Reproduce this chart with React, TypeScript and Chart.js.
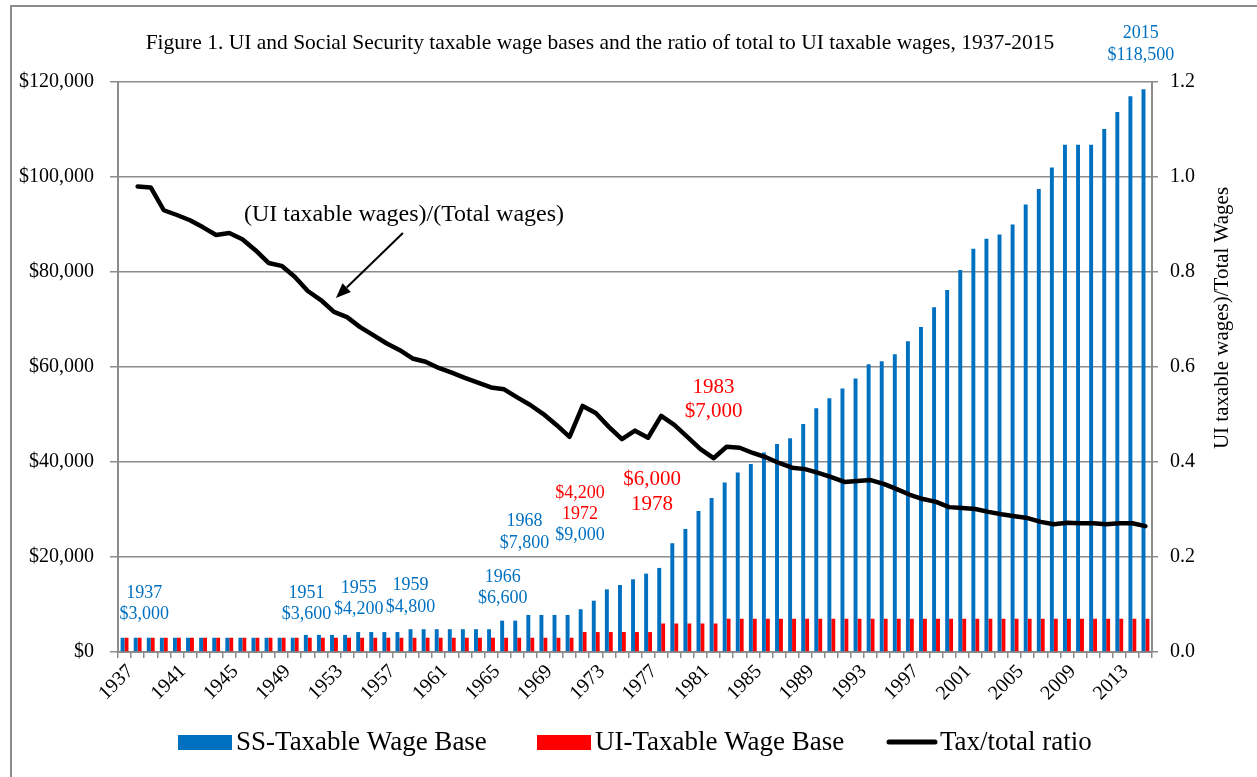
import React, { useEffect, useRef } from 'react';
import { Chart, registerables } from 'chart.js';

Chart.register(...registerables);

const FONT = '"Liberation Serif", "Times New Roman", serif';
const BLUE = '#0070C0';
const RED = '#FF0000';
const GRID = '#8C8C8C';

const years = [
  '1937', '1938', '1939', '1940', '1941', '1942', '1943', '1944', '1945', '1946',
  '1947', '1948', '1949', '1950', '1951', '1952', '1953', '1954', '1955', '1956',
  '1957', '1958', '1959', '1960', '1961', '1962', '1963', '1964', '1965', '1966',
  '1967', '1968', '1969', '1970', '1971', '1972', '1973', '1974', '1975', '1976',
  '1977', '1978', '1979', '1980', '1981', '1982', '1983', '1984', '1985', '1986',
  '1987', '1988', '1989', '1990', '1991', '1992', '1993', '1994', '1995', '1996',
  '1997', '1998', '1999', '2000', '2001', '2002', '2003', '2004', '2005', '2006',
  '2007', '2008', '2009', '2010', '2011', '2012', '2013', '2014', '2015',
];

const ssBase = [
  3000, 3000, 3000, 3000, 3000, 3000, 3000, 3000, 3000, 3000,
  3000, 3000, 3000, 3000, 3600, 3600, 3600, 3600, 4200, 4200,
  4200, 4200, 4800, 4800, 4800, 4800, 4800, 4800, 4800, 6600,
  6600, 7800, 7800, 7800, 7800, 9000, 10800, 13200, 14100, 15300,
  16500, 17700, 22900, 25900, 29700, 32400, 35700, 37800, 39600, 42000,
  43800, 45000, 48000, 51300, 53400, 55500, 57600, 60600, 61200, 62700,
  65400, 68400, 72600, 76200, 80400, 84900, 87000, 87900, 90000, 94200,
  97500, 102000, 106800, 106800, 106800, 110100, 113700, 117000, 118500,
];

const uiBase = [
  3000, 3000, 3000, 3000, 3000, 3000, 3000, 3000, 3000, 3000,
  3000, 3000, 3000, 3000, 3000, 3000, 3000, 3000, 3000, 3000,
  3000, 3000, 3000, 3000, 3000, 3000, 3000, 3000, 3000, 3000,
  3000, 3000, 3000, 3000, 3000, 4200, 4200, 4200, 4200, 4200,
  4200, 6000, 6000, 6000, 6000, 6000, 7000, 7000, 7000, 7000,
  7000, 7000, 7000, 7000, 7000, 7000, 7000, 7000, 7000, 7000,
  7000, 7000, 7000, 7000, 7000, 7000, 7000, 7000, 7000, 7000,
  7000, 7000, 7000, 7000, 7000, 7000, 7000, 7000, 7000,
];

const taxRatio = [
  null, 0.980, 0.978, 0.930, 0.920, 0.909, 0.894, 0.878, 0.882, 0.869,
  0.846, 0.819, 0.813, 0.790, 0.760, 0.741, 0.716, 0.705, 0.684, 0.667,
  0.650, 0.636, 0.618, 0.611, 0.598, 0.588, 0.577, 0.567, 0.557, 0.553,
  0.536, 0.520, 0.501, 0.478, 0.453, 0.518, 0.503, 0.474, 0.448, 0.466,
  0.451, 0.497, 0.478, 0.453, 0.427, 0.408, 0.432, 0.430, 0.419, 0.410,
  0.398, 0.388, 0.385, 0.377, 0.368, 0.358, 0.360, 0.362, 0.354, 0.343,
  0.331, 0.322, 0.316, 0.305, 0.303, 0.301, 0.295, 0.290, 0.286, 0.282,
  0.274, 0.269, 0.272, 0.271, 0.271, 0.269, 0.271, 0.271, 0.265,
];

const TITLE = 'Figure 1. UI and Social Security taxable wage bases and the ratio of total to UI taxable wages, 1937-2015';
const RIGHT_TITLE = 'UI taxable wages)/Total Wages';
const LINE_NOTE = '(UI taxable wages)/(Total wages)';

// annotation: lines of text, anchored at a category position (fractional index) and a dollar value
const ANNOTATIONS: { lines: [string, string][]; at: number; value: number; size: number; gap: number }[] = [
  { lines: [['1937', BLUE], ['$3,000', BLUE]], at: 1.5, value: 12420, size: 18, gap: 21.5 },
  { lines: [['1951', BLUE], ['$3,600', BLUE]], at: 13.9, value: 12420, size: 18, gap: 21.5 },
  { lines: [['1955', BLUE], ['$4,200', BLUE]], at: 17.9, value: 13470, size: 18, gap: 21.5 },
  { lines: [['1959', BLUE], ['$4,800', BLUE]], at: 21.85, value: 14000, size: 18, gap: 21.5 },
  { lines: [['1966', BLUE], ['$6,600', BLUE]], at: 28.9, value: 15790, size: 18, gap: 21.5 },
  { lines: [['1968', BLUE], ['$7,800', BLUE]], at: 30.55, value: 27470, size: 18, gap: 21.5 },
  { lines: [['$4,200', RED], ['1972', RED], ['$9,000', BLUE]], at: 34.8, value: 33470, size: 18, gap: 21 },
  { lines: [['$6,000', RED], ['1978', RED]], at: 40.3, value: 36310, size: 21, gap: 25 },
  { lines: [['1983', RED], ['$7,000', RED]], at: 45.0, value: 55680, size: 21, gap: 23.5 },
  { lines: [['2015', BLUE], ['$118,500', BLUE]], at: 77.65, value: 130300, size: 18, gap: 22 },
  { lines: [[LINE_NOTE, '#000']], at: 21.35, value: 91990, size: 24, gap: 0 },
];

const ARROW = { fromAt: 21.27, fromValue: 88200, toAt: 16.15, toValue: 74520 };

const LEGEND = [
  { label: 'SS-Taxable Wage Base', color: BLUE, kind: 'box', x: 178 },
  { label: 'UI-Taxable Wage Base', color: RED, kind: 'box', x: 537 },
  { label: 'Tax/total ratio', color: '#000', kind: 'line', x: 889 },
];

const overlayPlugin = {
  id: 'overlay',
  afterDraw(chart: any) {
    const ctx: CanvasRenderingContext2D = chart.ctx;
    const xs = chart.scales.x;
    const ys = chart.scales.y;
    ctx.save();
    ctx.textAlign = 'center';
    ctx.textBaseline = 'middle';

    // title
    ctx.fillStyle = '#000';
    ctx.font = `21.5px ${FONT}`;
    ctx.fillText(TITLE, 600, 43);

    // annotations
    for (const a of ANNOTATIONS) {
      const px = xs.getPixelForValue(a.at);
      const py = ys.getPixelForValue(a.value);
      ctx.font = `${a.size}px ${FONT}`;
      a.lines.forEach(([t, c], i) => {
        ctx.fillStyle = c;
        ctx.fillText(t, px, py + i * a.gap);
      });
    }

    // arrow
    const x0 = xs.getPixelForValue(ARROW.fromAt);
    const y0 = ys.getPixelForValue(ARROW.fromValue);
    const x1 = xs.getPixelForValue(ARROW.toAt);
    const y1 = ys.getPixelForValue(ARROW.toValue);
    const ang = Math.atan2(y1 - y0, x1 - x0);
    const head = 15;
    const hw = 6;
    const bx = x1 - head * Math.cos(ang);
    const by = y1 - head * Math.sin(ang);
    ctx.strokeStyle = '#000';
    ctx.lineWidth = 2;
    ctx.beginPath();
    ctx.moveTo(x0, y0);
    ctx.lineTo(bx, by);
    ctx.stroke();
    ctx.fillStyle = '#000';
    ctx.beginPath();
    ctx.moveTo(x1, y1);
    ctx.lineTo(bx + hw * Math.sin(ang), by - hw * Math.cos(ang));
    ctx.lineTo(bx - hw * Math.sin(ang), by + hw * Math.cos(ang));
    ctx.closePath();
    ctx.fill();

    // right axis title
    ctx.save();
    ctx.translate(1222, 318);
    ctx.rotate(-Math.PI / 2);
    ctx.fillStyle = '#000';
    ctx.font = `21px ${FONT}`;
    ctx.fillText(RIGHT_TITLE, 0, 0);
    ctx.restore();

    // legend
    ctx.textAlign = 'left';
    ctx.font = `27px ${FONT}`;
    for (const l of LEGEND) {
      if (l.kind === 'box') {
        ctx.fillStyle = l.color;
        ctx.fillRect(l.x, 735, 54, 15);
        ctx.fillStyle = '#000';
        ctx.fillText(l.label, l.x + 58, 743);
      } else {
        ctx.strokeStyle = l.color;
        ctx.lineWidth = 5;
        ctx.lineCap = 'round';
        ctx.beginPath();
        ctx.moveTo(l.x, 742);
        ctx.lineTo(l.x + 46, 742);
        ctx.stroke();
        ctx.fillStyle = '#000';
        ctx.fillText(l.label, l.x + 51, 743);
      }
    }
    ctx.restore();
  },
};

export default function App() {
  const ref = useRef<HTMLCanvasElement | null>(null);

  useEffect(() => {
    if (!ref.current) return;
    const chart = new Chart(ref.current, {
      type: 'bar',
      data: {
        labels: years,
        datasets: [
          {
            type: 'bar',
            label: 'SS-Taxable Wage Base',
            data: ssBase,
            backgroundColor: BLUE,
            yAxisID: 'y',
            order: 2,
            categoryPercentage: 0.6,
            barPercentage: 1.0,
          },
          {
            type: 'bar',
            label: 'UI-Taxable Wage Base',
            data: uiBase,
            backgroundColor: RED,
            yAxisID: 'y',
            order: 2,
            categoryPercentage: 0.6,
            barPercentage: 1.0,
          },
          {
            type: 'line',
            label: 'Tax/total ratio',
            data: taxRatio as any,
            borderColor: '#000',
            borderWidth: 4.5,
            pointRadius: 0,
            tension: 0,
            borderJoinStyle: 'round',
            borderCapStyle: 'round',
            yAxisID: 'y1',
            order: 0,
          } as any,
        ],
      },
      options: {
        animation: false,
        responsive: false,
        events: [],
        layout: { padding: { top: 82, left: 0, right: 0, bottom: 0 } },
        plugins: {
          legend: { display: false },
          title: { display: false },
          tooltip: { enabled: false },
        },
        scales: {
          x: {
            offset: true,
            grid: {
              offset: true,
              drawOnChartArea: false,
              drawTicks: true,
              tickLength: 6,
              color: GRID,
              lineWidth: 1.5,
            },
            border: { display: true, color: GRID, width: 2 },
            ticks: {
              autoSkip: false,
              maxRotation: 45,
              minRotation: 45,
              padding: 2,
              labelOffset: 6,
              color: '#000',
              font: { family: FONT, size: 20 },
              callback: (_v: any, i: number) => (i % 4 === 0 ? years[i] : ''),
            },
            afterFit: (s: any) => {
              s.height = 125;
            },
          },
          y: {
            position: 'left',
            min: 0,
            max: 120000,
            grid: { color: GRID, lineWidth: 1.5, tickLength: 8, drawTicks: true },
            border: { display: true, color: GRID, width: 2 },
            ticks: {
              stepSize: 20000,
              padding: 16,
              color: '#000',
              font: { family: FONT, size: 20 },
              callback: (v: any) => '$' + Number(v).toLocaleString('en-US'),
            },
            afterFit: (s: any) => {
              s.width = 118;
            },
          },
          y1: {
            position: 'right',
            min: 0,
            max: 1.2,
            grid: { drawOnChartArea: false, color: GRID, lineWidth: 1.5, tickLength: 6 },
            border: { display: true, color: GRID, width: 2 },
            ticks: {
              stepSize: 0.2,
              padding: 12,
              color: '#000',
              font: { family: FONT, size: 20 },
              callback: (v: any) => Number(v).toFixed(1),
            },
            afterFit: (s: any) => {
              s.width = 105;
            },
          },
        },
      },
      plugins: [overlayPlugin],
    });
    return () => chart.destroy();
  }, []);

  return (
    <div style={{ position: 'absolute', left: 0, top: 0, width: 1257, height: 777, background: '#fff' }}>
      <div
        style={{
          position: 'absolute',
          left: 10,
          top: 5,
          right: 0,
          bottom: 0,
          borderTop: `2px solid ${GRID}`,
          borderLeft: `2px solid ${GRID}`,
        }}
      />
      <canvas ref={ref} width={1257} height={777} style={{ position: 'absolute', left: 0, top: 0 }} />
    </div>
  );
}
